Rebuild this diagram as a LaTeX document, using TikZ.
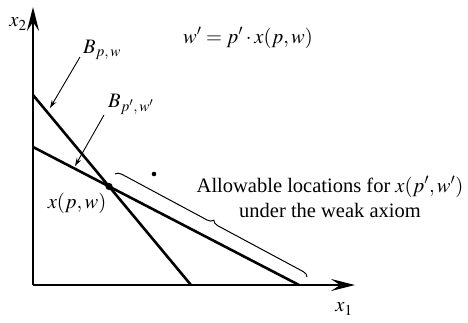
\documentclass[tikz,border=0pt]{standalone}
\usepackage{mathptmx}
\usepackage{fontspec}
\setmainfont{Liberation Serif}
\usetikzlibrary{arrows.meta,decorations.pathreplacing}
\tikzset{
  axis/.style={line width=1.4pt,-{Stealth[length=24pt,width=12pt,inset=9pt]}},
  budget/.style={line width=2.6pt},
  pointer/.style={line width=0.9pt,-{Stealth[length=8pt,width=5pt]}},
  bracestyle/.style={line width=1pt,decorate,decoration={brace,amplitude=6pt}},
  lbl/.style={inner sep=1pt}
}
\begin{document}
\begin{tikzpicture}[x=1pt,y=-1pt,font=\fontsize{20.5}{25}\selectfont]
\useasboundingbox (0,0) rectangle (468,322);
\coordinate (O) at (33,285);
\coordinate (ytop) at (33,7);
\coordinate (xend) at (355,285);
\draw[axis] (O) -- (ytop);
\draw[axis] (O) -- (xend);
\node[lbl] (x2) at (18,24) {$x_2$};
\node[lbl] (x1) at (344,309) {$x_1$};
\coordinate (A1) at (33,95);
\coordinate (A2) at (191,285);
\coordinate (B1) at (33,147);
\coordinate (B2) at (299,285);
\draw[budget] (A1) -- (A2);
\draw[budget] (B1) -- (B2);
\coordinate (X) at (intersection of A1--A2 and B1--B2);
\fill (X) circle (3.6pt);
\node[lbl] (xpw) at (77,203) {$x(p,w)$};
\fill (154,174) circle (2.3pt);
\node[lbl] (eq) at (248,38) {$w' = p'\cdot x(p,w)$};
\node[lbl] (Bpw) at (102,50) {$B_{p,\,w}$};
\node[lbl] (Bpw2) at (131,104) {$B_{p',\,w'}$};
\coordinate (t1) at (50,108);
\coordinate (t2) at (75,166);
\coordinate (s1) at (80,57);
\coordinate (s2) at (104,115);
\draw[pointer] (s1) -- (t1);
\draw[pointer] (s2) -- (t2);
\coordinate (br1) at (115,174);
\coordinate (br2) at (307,277);
\draw[bracestyle] (br1) -- (br2);
\node[lbl,align=center] (txt) at (330,197) {Allowable locations for $x(p',w')$\\under the weak axiom};
\end{tikzpicture}
\end{document}
